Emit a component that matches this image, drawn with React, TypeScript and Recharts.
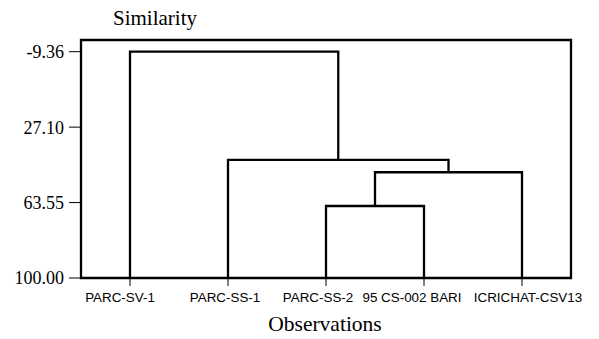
import { LineChart, Line, XAxis, YAxis, ReferenceArea } from 'recharts';

// leaves of the dendrogram, left to right
const observations = ['PARC-SV-1', 'PARC-SS-1', 'PARC-SS-2', '95 CS-002 BARI', 'ICRICHAT-CSV13'];

// merges: node ids 0-4 are leaves, 5.. are the merges in order
const mergeA = [2, 5, 1, 0];
const mergeB = [3, 4, 6, 7];
const mergeHeights = [65.2, 48.9, 42.9, -9.36];

const yTicks = [-9.36, 27.1, 63.55, 100];
const xTicks = [1, 2, 3, 4, 5];

// label nudges so the long names don't run into each other
const labelShift = [-10, -3, -8, -12, 6];

type Pt = { x: number; y: number };

function buildLinks(): Pt[][] {
  const nodes: Pt[] = observations.map((_, i) => ({ x: i + 1, y: 100 }));
  const links: Pt[][] = [];
  mergeHeights.forEach((h, i) => {
    const a = nodes[mergeA[i]];
    const b = nodes[mergeB[i]];
    links.push([
      { x: a.x, y: a.y },
      { x: a.x, y: h },
      { x: b.x, y: h },
      { x: b.x, y: b.y },
    ]);
    nodes.push({ x: (a.x + b.x) / 2, y: h });
  });
  return links;
}

const links = buildLinks();

const serif = '"Liberation Serif", "Times New Roman", serif';
const sans = '"Liberation Sans", Arial, sans-serif';

function ObsTick(props: any) {
  const { x, y, payload } = props;
  const i = payload.value - 1;
  return (
    <text
      x={x + (labelShift[i] || 0)}
      y={y + 4}
      textAnchor="middle"
      dominantBaseline="hanging"
      fill="#000"
      fontSize={13.4}
      fontFamily={sans}
    >
      {observations[i]}
    </text>
  );
}

export default function App() {
  return (
    <div style={{ position: 'absolute', left: 0, top: 0, width: 599, height: 339, background: '#fff' }}>
      <LineChart
        width={599}
        height={339}
        margin={{ top: 40, right: 28, left: 8, bottom: 31 }}
      >
        <XAxis
          type="number"
          dataKey="x"
          domain={[0.5, 5.5]}
          ticks={xTicks}
          interval={0}
          allowDataOverflow
          axisLine={false}
          tickLine={{ stroke: '#000', strokeWidth: 1 }}
          tickSize={8}
          height={30}
          tick={<ObsTick />}
        />
        <YAxis
          type="number"
          domain={[-15, 100]}
          reversed
          ticks={yTicks}
          interval={0}
          allowDataOverflow
          axisLine={false}
          tickLine={{ stroke: '#000', strokeWidth: 1 }}
          tickSize={12}
          tickMargin={5}
          width={73}
          tickFormatter={(v: number) => v.toFixed(2)}
          tick={{ fill: '#000', fontSize: 18, fontFamily: serif }}
        />
        <ReferenceArea
          x1={0.5}
          x2={5.5}
          y1={-15}
          y2={100}
          fill="none"
          stroke="#000"
          strokeWidth={2.3}
          fillOpacity={0}
        />
        {links.map((d, i) => (
          <Line
            key={i}
            data={d}
            dataKey="y"
            type="linear"
            stroke="#000"
            strokeWidth={2.3}
            dot={false}
            activeDot={false}
            isAnimationActive={false}
          />
        ))}
      </LineChart>
      <div
        style={{
          position: 'absolute',
          left: 155,
          top: 6,
          transform: 'translateX(-50%)',
          fontFamily: serif,
          fontSize: 21,
          whiteSpace: 'nowrap',
        }}
      >
        Similarity
      </div>
      <div
        style={{
          position: 'absolute',
          left: 325,
          top: 312,
          transform: 'translateX(-50%)',
          fontFamily: serif,
          fontSize: 21.5,
          whiteSpace: 'nowrap',
        }}
      >
        Observations
      </div>
    </div>
  );
}
